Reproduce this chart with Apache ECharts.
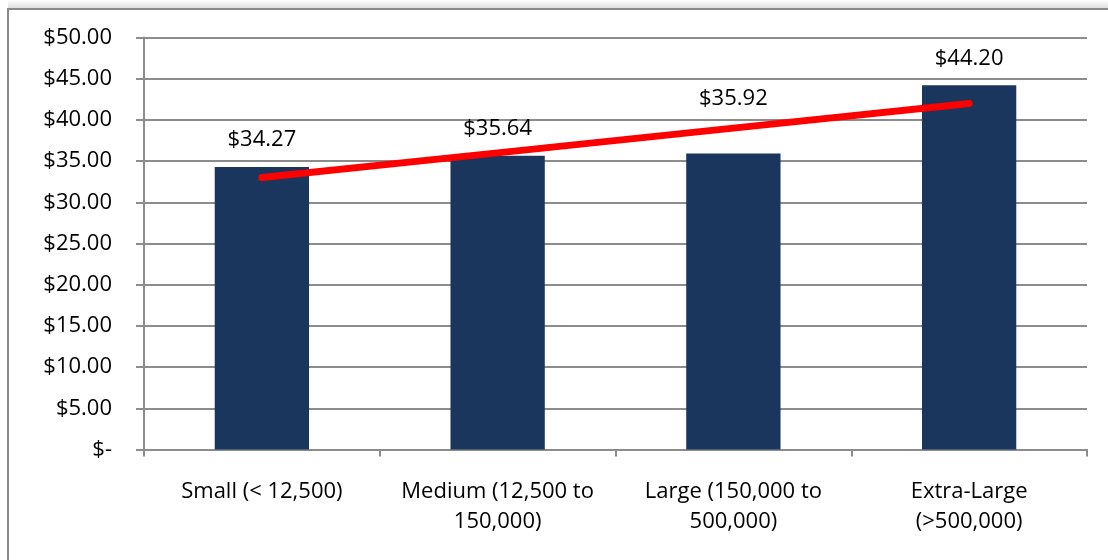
<!DOCTYPE html>
<html>
<head>
<meta charset="utf-8">
<script src="https://cdn.jsdelivr.net/npm/echarts@6/dist/echarts.min.js"></script>
<style>
  html, body { margin: 0; padding: 0; background: #ffffff; }
  #chart { width: 1108px; height: 560px; }
</style>
</head>
<body>
<div id="chart"></div>
<script>
// Average cost by facility size
const categories = ['Small (< 12,500)', 'Medium (12,500 to\n150,000)', 'Large (150,000 to\n500,000)', 'Extra-Large\n(>500,000)'];
const costs = [34.27, 35.64, 35.92, 44.20];
const trend = [33.0, 36.0, 39.0, 42.0];
const yTickLabels = ['$-', '$5.00', '$10.00', '$15.00', '$20.00', '$25.00', '$30.00', '$35.00', '$40.00', '$45.00', '$50.00'];
// extra lift for labels that would otherwise sit on the trend line
const labelLift = [14, 14, 42, 14];

const FONT = 'Open Sans';
const chart = echarts.init(document.getElementById('chart'));

chart.setOption({
  animation: false,
  backgroundColor: '#ffffff',
  textStyle: { fontFamily: FONT },
  grid: { left: 144, right: 21, top: 37.5, bottom: 110.5, containLabel: false },
  graphic: [
    {
      type: 'rect', silent: true, z: -1,
      shape: { x: 8, y: 0, width: 1100, height: 8 },
      style: {
        fill: new echarts.graphic.LinearGradient(0, 0, 0, 1, [
          { offset: 0, color: 'rgba(0,0,0,0.0)' },
          { offset: 1, color: 'rgba(0,0,0,0.12)' }
        ])
      }
    },
    {
      type: 'rect', silent: true, z: -1,
      shape: { x: 8, y: 9, width: 1200, height: 700 },
      style: { fill: 'none', stroke: '#8a8a8a', lineWidth: 2 }
    }
  ],
  xAxis: {
    type: 'category',
    data: categories,
    axisLine: { show: true, lineStyle: { color: '#8c8c8c', width: 2 } },
    axisTick: { show: true, length: 7, lineStyle: { color: '#8c8c8c', width: 2 } },
    axisLabel: {
      color: '#000000', fontFamily: FONT, fontSize: 22, lineHeight: 30, margin: 27,
      interval: 0
    },
    splitLine: { show: false }
  },
  yAxis: {
    type: 'value',
    min: 0, max: 50, interval: 5,
    axisLine: { show: true, lineStyle: { color: '#8c8c8c', width: 2 } },
    axisTick: { show: true, length: 8, lineStyle: { color: '#8c8c8c', width: 2 } },
    axisLabel: {
      color: '#000000', fontFamily: FONT, fontSize: 22, margin: 32,
      formatter: v => yTickLabels[Math.round(v / 5)]
    },
    splitLine: { show: true, lineStyle: { color: '#8c8c8c', width: 2 } }
  },
  series: [
    {
      type: 'bar',
      data: costs.map((v, i) => ({
        value: v,
        label: { distance: labelLift[i] }
      })),
      barWidth: '40%',
      itemStyle: { color: '#1a365d' },
      label: {
        show: true, position: 'top', color: '#000000',
        fontFamily: FONT, fontSize: 22, lineHeight: 26,
        formatter: p => '$' + p.value.toFixed(2)
      },
      z: 2
    },
    {
      type: 'line',
      data: trend,
      symbol: 'none',
      lineStyle: { color: '#ff0000', width: 7, cap: 'round' },
      z: 5
    }
  ]
});
</script>
</body>
</html>
